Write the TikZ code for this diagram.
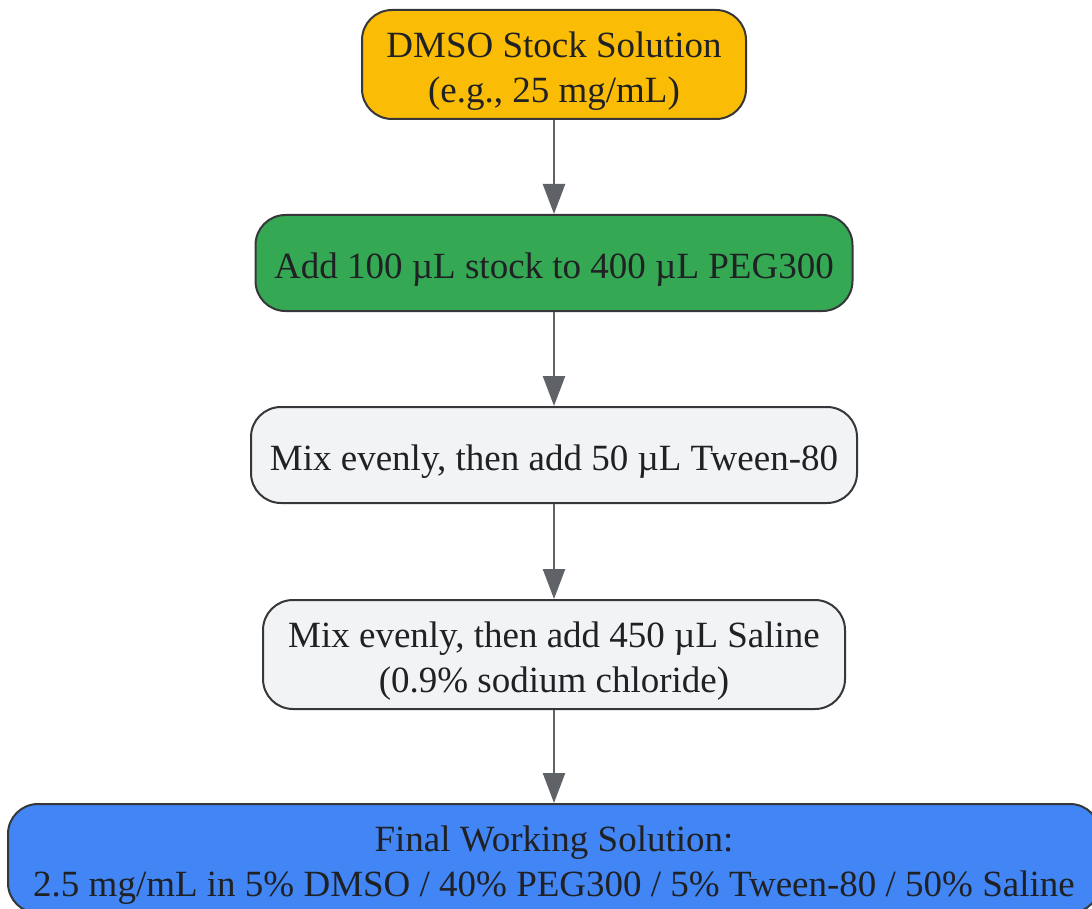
\documentclass[tikz,border=0pt]{standalone}
\usepackage{fontspec}
\setmainfont{Liberation Serif}
\usetikzlibrary{arrows.meta,shapes,positioning}
\definecolor{stockfill}{HTML}{FBBC05}
\definecolor{pegfill}{HTML}{34A853}
\definecolor{mixfill}{HTML}{F1F3F4}
\definecolor{finalfill}{HTML}{4285F4}
\definecolor{linkgray}{HTML}{5F6368}
\definecolor{inkdark}{HTML}{202124}
\tikzset{arrows={-{Triangle[width=22pt,length=30pt]}}}
\newcommand{\topgap}{\rule{0pt}{38pt}}

\begin{document}
\begin{tikzpicture}[x=1pt, y=-1pt, node distance = 94pt,
    box/.style={draw=inkdark!90, line width=2pt, rounded corners=30pt,
      align=center, text=inkdark, minimum height=96pt, inner xsep=0pt, inner ysep=0pt,
      font=\fontsize{37}{45}\selectfont},
    link/.style={draw=linkgray, line width=2.5pt}]
    \useasboundingbox (0,0) rectangle (1092,909);
    \clip (0,0) rectangle (1092,909);

    \node[box, fill=stockfill, minimum width=384pt, minimum height=109pt] (stock) at (554,64.5)
      {\topgap DMSO Stock Solution\\ (e.g., 25 mg/mL)};
    \node[box, fill=pegfill, minimum width=597pt] (peg) [below = of stock]
      {\topgap Add 100 µL stock to 400 µL PEG300};
    \node[box, fill=mixfill, minimum width=606pt] (tween) [below = of peg]
      {\topgap Mix evenly, then add 50 µL Tween-80};
    \node[box, fill=mixfill, minimum width=582pt, minimum height=109pt] (saline) [below = 95pt of tween]
      {\topgap Mix evenly, then add 450 µL Saline\\ (0.9\% sodium chloride)};
    \node[box, fill=finalfill, minimum width=1092pt, minimum height=109pt] (final) [below = 93pt of saline]
      {\topgap Final Working Solution:\\ 2.5 mg/mL in 5\% DMSO / 40\% PEG300 / 5\% Tween-80 / 50\% Saline};

    \path (stock) edge[link] (peg)
          (peg) edge[link] (tween)
          (tween) edge[link] (saline)
          (saline) edge[link] (final);
  \end{tikzpicture}
\end{document}
